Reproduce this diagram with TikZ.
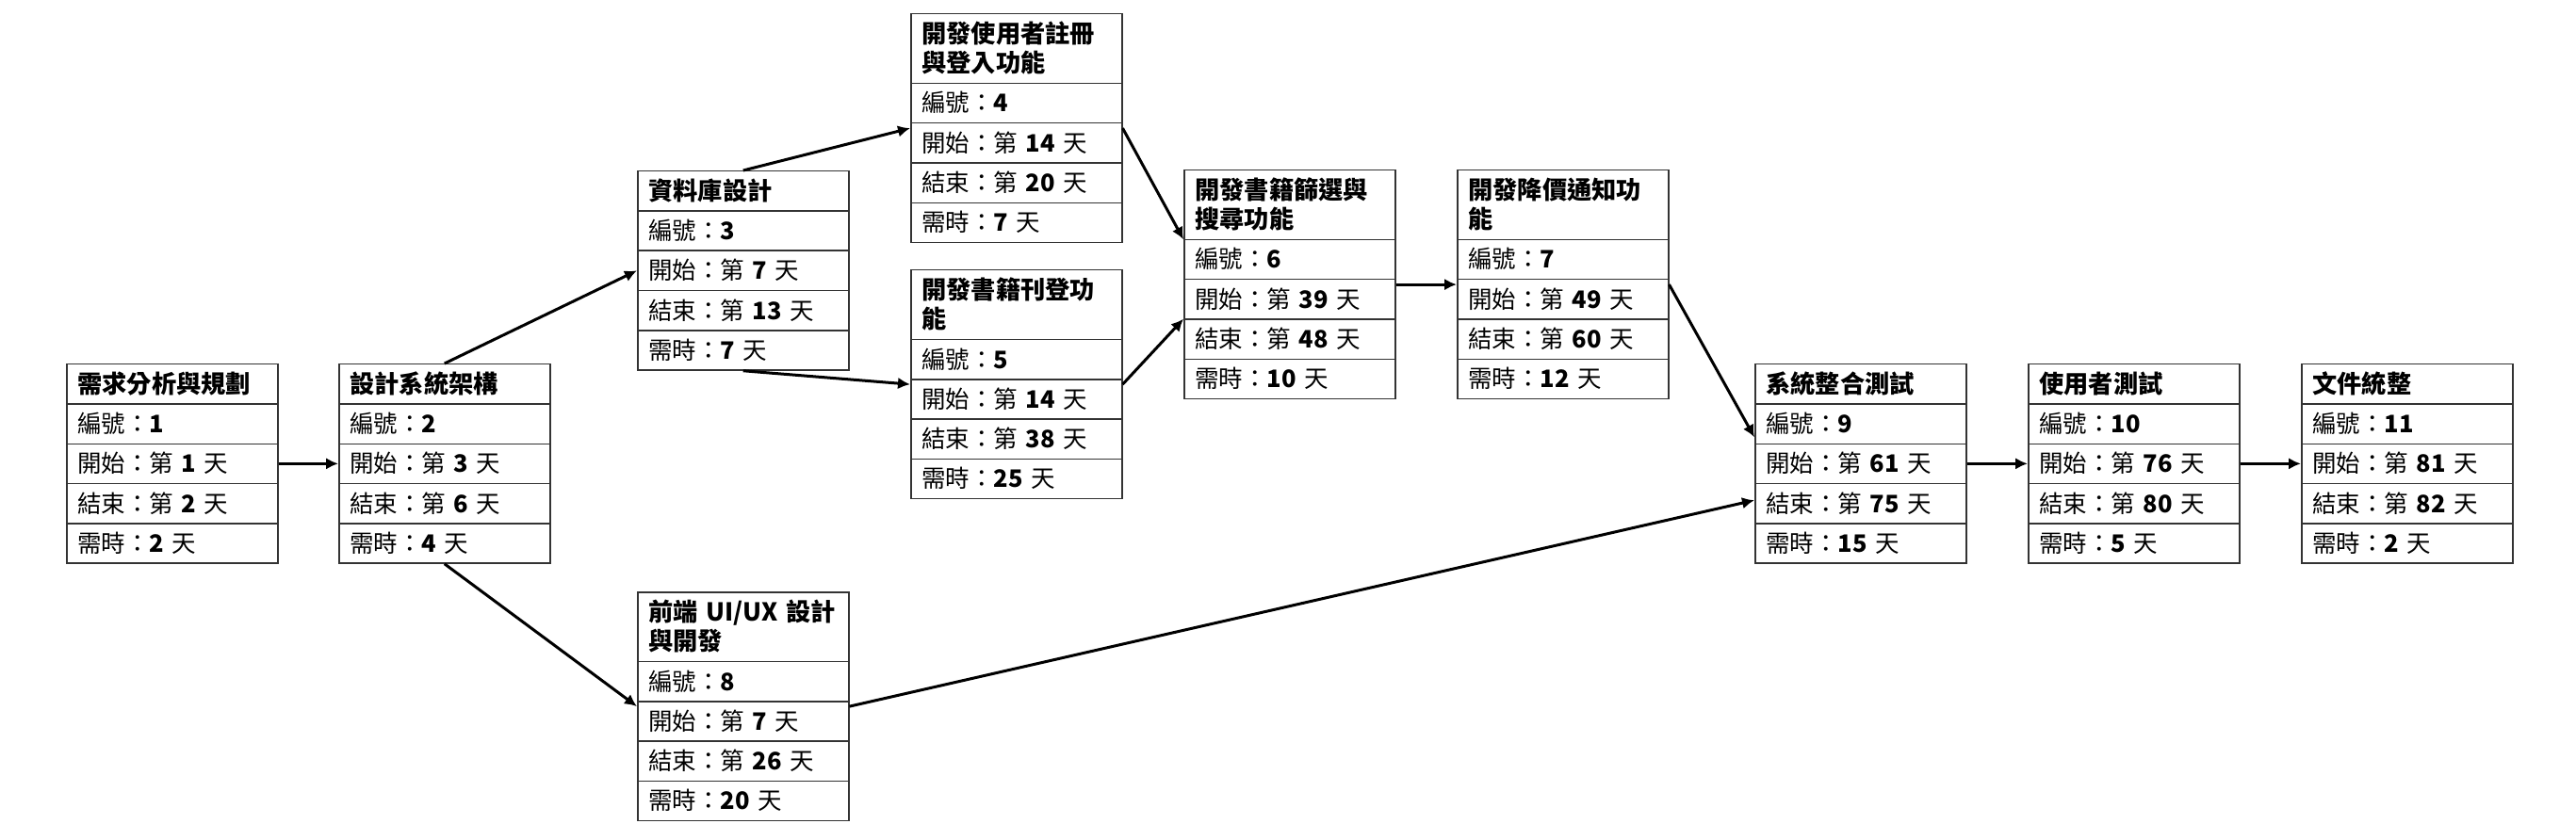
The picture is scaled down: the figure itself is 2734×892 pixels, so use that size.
\documentclass[tikz,border=0pt]{standalone}
\usepackage{fontspec}
\setmainfont{Noto Sans CJK TC}
\usepackage{tikz}
\usetikzlibrary{shapes.multipart}
\usetikzlibrary{arrows.meta}
\colorlet{boxcol}{black!80}
\tikzset{>={Latex[length=5.2pt,width=5pt]}}

\begin{document}
\begin{tikzpicture}[x=0.4pt,y=-0.4pt,
  task/.style={rectangle split, rectangle split parts=5,
    draw=boxcol, line width=0.6pt, text width=80.4pt,
    inner xsep=4.6pt, inner ysep=0pt, anchor=north west,
    font=\fontsize{10.2pt}{12pt}\selectfont},
  link/.style={->, line width=1.2pt}]

\useasboundingbox (0,0) rectangle (2734,892);

% ---------- Task function ----------
% name, top left (x,y), title, id, start, end, days
\def\tstrut{\rule{0pt}{11.9pt}}
\def\bstrut{\rule[-4.4pt]{0pt}{4.4pt}}
\def\rowstrut{\rule[-4.4pt]{0pt}{16.3pt}}
\def\task#1#2#3#4#5#6#7{
  \node[task] (#1) at (#2) {%
    {\fontsize{10.5pt}{12.6pt}\selectfont\bfseries\tstrut #3\bstrut\par}
    \nodepart{two}\rowstrut 編號：\textbf{#4}
    \nodepart{three}\rowstrut 開始：第 \textbf{#5} 天
    \nodepart{four}\rowstrut 結束：第 \textbf{#6} 天
    \nodepart{five}\rowstrut 需時：\textbf{#7} 天};
}

% ---------------- Tasks ----------------
\task{t1}{70,386}{需求分析與規劃}{1}{1}{2}{2}
\task{t2}{359,386}{設計系統架構}{2}{3}{6}{4}
\task{t3}{676,181}{資料庫設計}{3}{7}{13}{7}
\task{t4}{966,14}{開發使用者註冊\\與登入功能}{4}{14}{20}{7}
\task{t5}{966,286}{開發書籍刊登功\\能}{5}{14}{38}{25}
\task{t6}{1256,180}{開發書籍篩選與\\搜尋功能}{6}{39}{48}{10}
\task{t7}{1546,180}{開發降價通知功\\能}{7}{49}{60}{12}
\task{t8}{676,628}{前端 UI/UX 設計\\與開發}{8}{7}{26}{20}
\task{t9}{1862,386}{系統整合測試}{9}{61}{75}{15}
\task{t10}{2152,386}{使用者測試}{10}{76}{80}{5}
\task{t11}{2442,386}{文件統整}{11}{81}{82}{2}

% ---------------- Dependencies ----------------
\foreach \a/\b in {t1.east/t2.west, t2.north/t3.west, t2.south/t8.west,
  t3.north/t4.west, t3.south/t5.west,
  t4.east/t6.157, t5.east/t6.198, t6.east/t7.west,
  t7.east/t9.166, t8.east/t9.199,
  t9.east/t10.west, t10.east/t11.west}{
  \draw[link] (\a) -- (\b);
}

\end{tikzpicture}
\end{document}
